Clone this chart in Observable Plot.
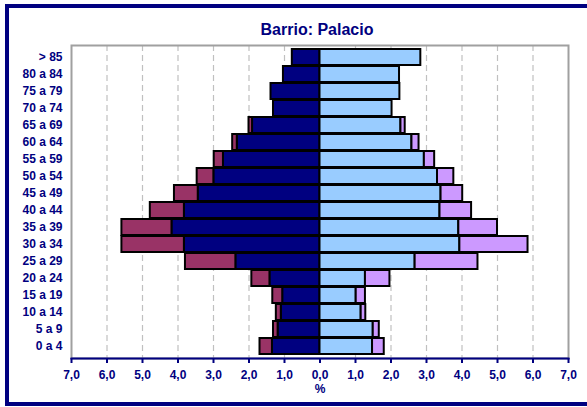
<!DOCTYPE html>
<html><head><meta charset="utf-8">
<script src="https://cdn.jsdelivr.net/npm/d3@7"></script>
<script src="https://cdn.jsdelivr.net/npm/@observablehq/plot@0.6"></script>
<style>
body{margin:0;background:#fff;font-family:Arial,"Liberation Sans",sans-serif;overflow:hidden;}
#box{position:absolute;left:5px;top:4px;width:640px;height:402px;border:4px solid #000080;box-sizing:border-box;}
#title{position:absolute;left:0;top:21px;width:634px;text-align:center;font-size:16px;line-height:18px;font-weight:bold;color:#000080;}
#chart{position:absolute;left:0;top:40px;}
#xlabel{position:absolute;left:0;top:383.5px;width:640px;text-align:center;font-size:12px;line-height:10px;font-weight:bold;color:#000080;}
</style></head>
<body>
<div id="box"></div>
<div id="title">Barrio: Palacio</div>
<div id="chart"></div>
<div id="xlabel">%</div>
<script>
const ageGroups = ["0 a 4","5 a 9","10 a 14","15 a 19","20 a 24","25 a 29","30 a 34","35 a 39","40 a 44","45 a 49","50 a 54","55 a 59","60 a 64","65 a 69","70 a 74","75 a 79","80 a 84","> 85"];
const menSpanish   = [1.34,1.18,1.09,1.05,1.41,2.37,3.82,4.17,3.82,3.43,2.99,2.72,2.33,1.90,1.31,1.38,1.03,0.78];
const menForeign   = [0.35,0.13,0.14,0.28,0.51,1.42,1.76,1.41,0.96,0.67,0.47,0.26,0.13,0.10,0.00,0.00,0.00,0.00];
const womenSpanish = [1.48,1.50,1.16,1.02,1.28,2.68,3.94,3.91,3.38,3.41,3.31,2.94,2.59,2.28,2.03,2.25,2.24,2.84];
const womenForeign = [0.33,0.17,0.13,0.26,0.69,1.77,1.92,1.09,0.89,0.61,0.46,0.29,0.20,0.12,0.00,0.00,0.00,0.00];
const xTicks = [-7,-6,-5,-4,-3,-2,-1,0,1,2,3,4,5,6,7];
const gridTicks = [-6,-5,-4,-3,-2,-1,1,2,3,4,5,6];

const colors = {menES:"#000080", menFO:"#993366", womenES:"#99CCFF", womenFO:"#CC99FF"};
const rows = [];
ageGroups.forEach((age, i) => {
  rows.push({age, kind:"menES", x1:-menSpanish[i], x2:0});
  if (menForeign[i] > 0) rows.push({age, kind:"menFO", x1:-(menSpanish[i]+menForeign[i]), x2:-menSpanish[i]});
  rows.push({age, kind:"womenES", x1:0, x2:womenSpanish[i]});
  if (womenForeign[i] > 0) rows.push({age, kind:"womenFO", x1:womenSpanish[i], x2:womenSpanish[i]+womenForeign[i]});
});

const chart = Plot.plot({
  width: 587,
  height: 360,
  marginLeft: 71,
  marginRight: 19,
  marginTop: 5,
  marginBottom: 42,
  style: {fontFamily: "Arial, 'Liberation Sans', sans-serif", fontSize: "12px", fontWeight: "bold", color: "#000080", background: "transparent"},
  x: {domain: [-7, 7], label: null},
  y: {domain: ageGroups.slice().reverse(), paddingInner: 0.06, paddingOuter: 0, label: null},
  marks: [
    Plot.ruleX(gridTicks, {stroke: "#c0c0c0", strokeWidth: 1.2, strokeDasharray: "6,4"}),
    Plot.barX(rows, {y: "age", x1: "x1", x2: "x2", fill: d => colors[d.kind], stroke: "#000", strokeWidth: 2}),
    Plot.frame({stroke: "#a0a0a0", strokeWidth: 2}),
    Plot.frame({anchor: "bottom", stroke: "#000080", strokeWidth: 2}),
    Plot.axisX({ticks: xTicks, tickFormat: d => Math.abs(d).toFixed(1).replace(".", ","), tickSize: 5, tickPadding: 7, strokeWidth: 2, label: null}),
    Plot.axisY({tickSize: 0, tickPadding: 9, label: null})
  ]
});
document.getElementById("chart").appendChild(chart);
</script>
</body></html>
